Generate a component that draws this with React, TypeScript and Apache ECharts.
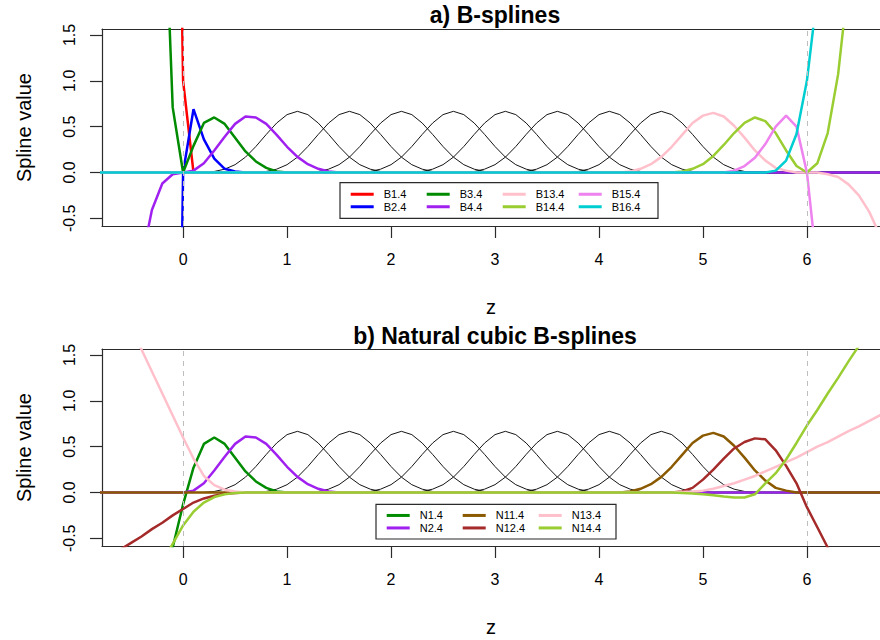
import { useEffect, useRef } from "react";
import * as echarts from "echarts";

// Sampling step of the plotted curves (z units)
const STEP = 0.1;

// Axis ranges and ticks (the plot region runs past the right edge of the page)
const Z_RANGE = [-0.78, 6.703];
const Y_RANGE = [-0.584, 1.565];
const Z_TICKS = [0, 1, 2, 3, 4, 5, 6];
const VALUE_TICKS = [-0.5, 0, 0.5, 1, 1.5];
const BOUNDARY_KNOTS = [0, 6];

// Interior cubic B-spline (equal knot spacing 0.5), sampled over its support
const INTERIOR_SHAPE = [
  0, 0.001, 0.011, 0.036, 0.085, 0.167, 0.283, 0.415, 0.539, 0.631, 0.667,
  0.631, 0.539, 0.415, 0.283, 0.167, 0.085, 0.036, 0.011, 0.001, 0,
];
const INTERIOR_STARTS = [0.1, 0.6, 1.1, 1.6, 2.1, 2.6, 3.1, 3.6];
const B_INTERIOR_NAMES = ["B5.4", "B6.4", "B7.4", "B8.4", "B9.4", "B10.4", "B11.4", "B12.4"];
const N_INTERIOR_NAMES = ["N3.4", "N4.4", "N5.4", "N6.4", "N7.4", "N8.4", "N9.4", "N10.4"];

// Each segment: [first z, values every STEP]
type Seg = [number, number[]];

// a) B-spline basis (boundary functions)
const B1_4: Seg[] = [[-0.2, [27, 8, 1, 0]]];
const B2_4: Seg[] = [[-0.1, [-7.7, 0, 0.69, 0.36, 0.15, 0.04, 0.01, 0]]];
const B3_4: Seg[] = [[-0.2, [3.68, 0.71, 0, 0.29, 0.54, 0.6, 0.53, 0.38, 0.23, 0.12, 0.05, 0.01, 0, 0]]];
const B4_4: Seg[] = [[-0.5, [-1.89, -0.97, -0.41, -0.12, -0.02, 0, 0.02, 0.1, 0.24, 0.39, 0.53, 0.61, 0.6, 0.53, 0.41, 0.28, 0.17, 0.09, 0.04, 0.01, 0, 0]]];
const B13_4: Seg[] = [[4.1, [0, 0, 0.01, 0.04, 0.09, 0.17, 0.28, 0.41, 0.54, 0.62, 0.65, 0.61, 0.51, 0.38, 0.24, 0.13, 0.05, 0.02, 0, 0, 0, -0.02, -0.05, -0.13, -0.25, -0.43, -0.68, -1.02]]];
const B14_4: Seg[] = [[4.6, [0, 0, 0.01, 0.04, 0.09, 0.18, 0.3, 0.43, 0.54, 0.6, 0.56, 0.43, 0.24, 0.07, 0, 0.1, 0.43, 1.07, 2.1]]];
const B15_4: Seg[] = [[5.1, [0, 0, 0.02, 0.07, 0.16, 0.31, 0.5, 0.62, 0.5, 0, -1.05]]];
const B16_4: Seg[] = [[5.6, [0, 0.02, 0.13, 0.42, 1.0, 1.95]]];

// b) Natural cubic B-spline basis (boundary functions)
const N1_4: Seg[] = [[-0.2, [-1.07, -0.6, -0.13, 0.27, 0.53, 0.6, 0.53, 0.38, 0.23, 0.12, 0.05, 0.01, 0, 0]]];
const N2_4: Seg[] = [[0, [0, 0.02, 0.1, 0.24, 0.39, 0.53, 0.61, 0.6, 0.53, 0.41, 0.28, 0.17, 0.09, 0.04, 0.01, 0, 0]]];
const N11_4: Seg[] = [[4.1, [0, 0, 0.01, 0.04, 0.09, 0.17, 0.28, 0.41, 0.54, 0.62, 0.65, 0.61, 0.51, 0.38, 0.24, 0.13, 0.05, 0.02, 0, 0]]];
const N12_4: Seg[] = [
  [-0.8, [-0.77, -0.7, -0.62, -0.55, -0.48, -0.4, -0.33, -0.25, -0.18, -0.11, -0.065, -0.035, -0.015, -0.005, 0]],
  [4.7, [0, 0.01, 0.05, 0.14, 0.25, 0.37, 0.48, 0.55, 0.59, 0.58, 0.46, 0.29, 0.1, -0.16, -0.38, -0.6, -0.82]],
];
const N13_4: Seg[] = [
  [-0.6, [2.04, 1.8, 1.56, 1.32, 1.08, 0.84, 0.6, 0.37, 0.18, 0.08, 0.03, 0.01, 0]],
  [4.6, [0, 0, 0.005, 0.01, 0.02, 0.04, 0.07, 0.1, 0.14, 0.18, 0.23, 0.28, 0.33, 0.38, 0.44, 0.5, 0.55, 0.61, 0.67, 0.72, 0.78, 0.84, 0.89]],
];
const N14_4: Seg[] = [
  [-0.3, [-0.96, -0.76, -0.56, -0.36, -0.21, -0.11, -0.05, -0.02, -0.005, 0]],
  [4.7, [0, -0.005, -0.01, -0.02, -0.03, -0.045, -0.055, -0.055, -0.02, 0.1, 0.21, 0.36, 0.54, 0.73, 0.9, 1.08, 1.25, 1.43, 1.6, 1.78]],
];

interface Curve {
  name: string;
  color: string;
  segs: Seg[];
  lead?: number; // z where a leading zero stretch begins
  tail?: number; // z where a trailing zero stretch ends
}

const B_CURVES: Curve[] = [
  { name: "B1.4", color: "#FF0000", segs: B1_4, tail: 6.8 },
  { name: "B2.4", color: "#0000FF", segs: B2_4, tail: 6.8 },
  { name: "B3.4", color: "#008B00", segs: B3_4, tail: 6.8 },
  { name: "B4.4", color: "#A020F0", segs: B4_4, tail: 6.8 },
  { name: "B13.4", color: "#FFC0CB", segs: B13_4, lead: -0.8 },
  { name: "B14.4", color: "#9ACD32", segs: B14_4, lead: -0.8 },
  { name: "B15.4", color: "#EE82EE", segs: B15_4, lead: -0.8 },
  { name: "B16.4", color: "#00CED1", segs: B16_4, lead: -0.8 },
];

const N_CURVES: Curve[] = [
  { name: "N1.4", color: "#008B00", segs: N1_4, tail: 6.8 },
  { name: "N2.4", color: "#A020F0", segs: N2_4, lead: -0.8, tail: 6.8 },
  { name: "N11.4", color: "#8B5A00", segs: N11_4, lead: -0.8, tail: 6.8 },
  { name: "N12.4", color: "#A52A2A", segs: N12_4 },
  { name: "N13.4", color: "#FFC0CB", segs: N13_4 },
  { name: "N14.4", color: "#9ACD32", segs: N14_4 },
];

// Legend entries, listed row by row (two rows)
const B_LEGEND = ["B1.4", "B3.4", "B13.4", "B15.4", "B2.4", "B4.4", "B14.4", "B16.4"];
const N_LEGEND = ["N1.4", "N11.4", "N13.4", "N2.4", "N12.4", "N14.4"];

const FONT = "'Liberation Sans', Arial, Helvetica, sans-serif";
const AXIS_COLOR = "#2b2b2b";
const PLOT_LEFT = 102;
const PLOT_HEIGHT = 197;
const PANEL_TOPS = [29, 349];
const TITLE_X = 495;

function toPoints(segs: Seg[], lead?: number, tail?: number): number[][] {
  const pts: number[][] = [];
  if (lead !== undefined) pts.push([lead, 0]);
  segs.forEach(([start, vals]) =>
    vals.forEach((v, i) => pts.push([Math.round((start + i * STEP) * 100) / 100, v]))
  );
  if (tail !== undefined) pts.push([tail, 0]);
  return pts;
}

function panelSeries(panel: number, interiorNames: string[], curves: Curve[]) {
  const list: any[] = [];
  interiorNames.forEach((name, k) => {
    list.push({
      type: "line",
      name,
      xAxisIndex: panel,
      yAxisIndex: panel,
      symbol: "none",
      silent: true,
      lineStyle: { color: "#141414", width: 1 },
      data: toPoints([[INTERIOR_STARTS[k], INTERIOR_SHAPE]]),
    });
  });
  curves.forEach((c) => {
    list.push({
      type: "line",
      name: c.name,
      xAxisIndex: panel,
      yAxisIndex: panel,
      symbol: "none",
      silent: true,
      color: c.color,
      lineStyle: { color: c.color, width: 2.5 },
      data: toPoints(c.segs, c.lead, c.tail),
    });
  });
  // dashed guides at the boundary knots
  list[list.length - 1].markLine = {
    silent: true,
    symbol: ["none", "none"],
    label: { show: false },
    lineStyle: { color: "#BEBEBE", type: [5, 5], width: 1 },
    data: BOUNDARY_KNOTS.map((k) => ({ xAxis: k })),
  };
  return list;
}

function legendFor(names: string[], left: number, top: number, columns: number) {
  return {
    data: names,
    left,
    top,
    width: columns * 78 + 10,
    orient: "horizontal",
    padding: 0,
    icon: "rect",
    itemWidth: 23,
    itemHeight: 3,
    itemGap: 0,
    selectedMode: false,
    textStyle: {
      fontSize: 11,
      lineHeight: 12.5,
      width: 43,
      padding: [0, 0, 0, 5],
      color: "#000",
      fontFamily: FONT,
    },
  };
}

export default function App() {
  const ref = useRef<HTMLDivElement>(null);

  useEffect(() => {
    if (!ref.current) return;
    const chart = echarts.init(ref.current, undefined, { renderer: "svg" });

    const axisText = { color: "#000", fontFamily: FONT };
    const frame = { show: true, onZero: false, lineStyle: { color: AXIS_COLOR, width: 1.2 } };

    const bottomAxes = PANEL_TOPS.map((_, i) => ({
      type: "value",
      gridIndex: i,
      position: "bottom",
      min: Z_RANGE[0],
      max: Z_RANGE[1],
      axisLine: frame,
      axisTick: {
        show: true,
        customValues: Z_TICKS,
        length: 12,
        lineStyle: { color: AXIS_COLOR, width: 1.2 },
      },
      axisLabel: { customValues: Z_TICKS, margin: 25, fontSize: 16, ...axisText },
      splitLine: { show: false },
      name: "z",
      nameLocation: "middle",
      nameGap: 71,
      nameTextStyle: { fontSize: 20, ...axisText },
    }));
    // top edge of each plot frame
    const topAxes = PANEL_TOPS.map((_, i) => ({
      type: "value",
      gridIndex: i,
      position: "top",
      min: Z_RANGE[0],
      max: Z_RANGE[1],
      axisLine: frame,
      axisTick: { show: false },
      axisLabel: { show: false },
      splitLine: { show: false },
    }));

    const option = {
      animation: false,
      backgroundColor: "#ffffff",
      textStyle: { fontFamily: FONT },
      grid: PANEL_TOPS.map((top) => ({
        left: PLOT_LEFT,
        top,
        right: 0,
        height: PLOT_HEIGHT,
      })),
      xAxis: [...bottomAxes, ...topAxes],
      yAxis: PANEL_TOPS.map((_, i) => ({
        type: "value",
        gridIndex: i,
        min: Y_RANGE[0],
        max: Y_RANGE[1],
        axisLine: frame,
        axisTick: {
          show: true,
          customValues: VALUE_TICKS,
          length: 12,
          lineStyle: { color: AXIS_COLOR, width: 1.2 },
        },
        axisLabel: {
          customValues: VALUE_TICKS,
          rotate: 90,
          margin: 25,
          fontSize: 16,
          formatter: (v: number) => v.toFixed(1),
          ...axisText,
        },
        splitLine: { show: false },
        name: "Spline value",
        nameLocation: "middle",
        nameGap: 68,
        nameTextStyle: { fontSize: 20, ...axisText },
      })),
      legend: [
        legendFor(B_LEGEND, 350.7, 188, 4),
        legendFor(N_LEGEND, 386.7, 509.2, 3),
      ],
      graphic: [
        {
          type: "rect",
          silent: true,
          shape: { x: 340, y: 182.7, width: 318, height: 35.6 },
          style: { fill: "rgba(0,0,0,0)", stroke: AXIS_COLOR, lineWidth: 1.2 },
        },
        {
          type: "rect",
          silent: true,
          shape: { x: 376, y: 504.3, width: 240, height: 34.7 },
          style: { fill: "rgba(0,0,0,0)", stroke: AXIS_COLOR, lineWidth: 1.2 },
        },
        {
          type: "text",
          x: TITLE_X,
          y: 15,
          style: {
            text: "a) B-splines",
            fontSize: 23,
            fontWeight: "bold",
            fontFamily: FONT,
            fill: "#000",
            align: "center",
            verticalAlign: "middle",
            textAlign: "center",
            textVerticalAlign: "middle",
          },
        },
        {
          type: "text",
          x: TITLE_X,
          y: 336,
          style: {
            text: "b) Natural cubic B-splines",
            fontSize: 23,
            fontWeight: "bold",
            fontFamily: FONT,
            fill: "#000",
            align: "center",
            verticalAlign: "middle",
            textAlign: "center",
            textVerticalAlign: "middle",
          },
        },
      ],
      series: [
        ...panelSeries(0, B_INTERIOR_NAMES, B_CURVES),
        ...panelSeries(1, N_INTERIOR_NAMES, N_CURVES),
      ],
    };

    chart.setOption(option as any);
    return () => chart.dispose();
  }, []);

  return (
    <div
      ref={ref}
      style={{ position: "fixed", left: 0, top: 0, width: 880, height: 640, background: "#fff" }}
    />
  );
}
